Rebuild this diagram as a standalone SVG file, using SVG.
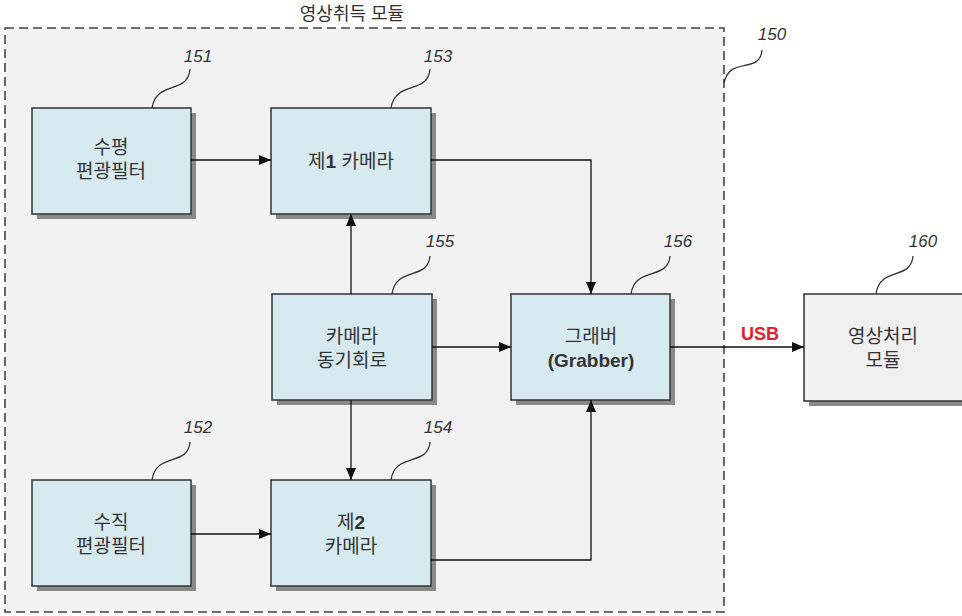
<svg xmlns="http://www.w3.org/2000/svg" width="962" height="616" viewBox="0 0 962 616">
<style>
.box{fill:#d6eaf0;stroke:#333;stroke-width:1.5}
.gbox{fill:#f0f0f0;stroke:#333;stroke-width:1.5}
.sh{fill:#8a8a8a}
.t{font-family:"Liberation Sans","Noto Sans CJK KR",sans-serif;font-size:19px;fill:#333;text-anchor:middle}
.b{font-weight:bold}
.num{font-family:"Liberation Sans",sans-serif;font-size:17px;font-style:italic;fill:#333;text-anchor:middle}
.lead{fill:none;stroke:#333;stroke-width:1.3}
.con{fill:none;stroke:#111;stroke-width:1.3}
</style>
<defs>
<marker id="arr" viewBox="0 0 12 10" refX="12" refY="5" markerWidth="12" markerHeight="10" markerUnits="userSpaceOnUse" orient="auto">
<path d="M0,0 L12,5 L0,10 Z" fill="#111"/>
</marker>
</defs>
<rect width="962" height="616" fill="#fff"/>
<g id="module150">
<rect x="5" y="28" width="719" height="584" fill="#f2f2f2" stroke="#444" stroke-width="1.6" stroke-dasharray="9,5"/>
<text class="t" x="352" y="20" style="font-size:18px">영상취득 모듈</text>
<path class="lead" d="M724,83 C730,55 760,75 762,50"/>
<text class="num" x="772" y="40">150</text>
</g>
<g id="n151">
<rect class="sh" x="37" y="113" width="159" height="106"/>
<rect class="box" x="32" y="108" width="159" height="106"/>
<text class="t" x="111" y="154">수평</text>
<text class="t" x="111" y="178">편광필터</text>
<path class="lead" d="M152,108 C156,80 188,95 190,69"/>
<text class="num" x="198" y="62">151</text>
</g>
<g id="n153">
<rect class="sh" x="276" y="113" width="160" height="106"/>
<rect class="box" x="271" y="108" width="160" height="106"/>
<text class="t" x="351" y="168">제<tspan class="b">1</tspan> 카메라</text>
<path class="lead" d="M391,108 C395,80 428,95 430,69"/>
<text class="num" x="438" y="62">153</text>
</g>
<g id="n155">
<rect class="sh" x="277" y="299" width="160" height="106"/>
<rect class="box" x="272" y="294" width="160" height="106"/>
<text class="t" x="352" y="343">카메라</text>
<text class="t" x="352" y="367">동기회로</text>
<path class="lead" d="M392,294 C396,266 428,281 430,256"/>
<text class="num" x="440" y="247">155</text>
</g>
<g id="n156">
<rect class="sh" x="516" y="299" width="159" height="106"/>
<rect class="box" x="511" y="294" width="159" height="106"/>
<text class="t" x="591" y="343">그래버</text>
<text class="t b" x="591" y="367">(Grabber)</text>
<path class="lead" d="M631,294 C635,266 668,281 670,256"/>
<text class="num" x="678" y="247">156</text>
</g>
<g id="n152">
<rect class="sh" x="37" y="485" width="159" height="106"/>
<rect class="box" x="32" y="480" width="159" height="106"/>
<text class="t" x="111" y="529">수직</text>
<text class="t" x="111" y="553">편광필터</text>
<path class="lead" d="M152,480 C156,452 188,467 190,442"/>
<text class="num" x="198" y="433">152</text>
</g>
<g id="n154">
<rect class="sh" x="276" y="485" width="160" height="106"/>
<rect class="box" x="271" y="480" width="160" height="106"/>
<text class="t" x="351" y="529">제<tspan class="b">2</tspan></text>
<text class="t" x="351" y="553">카메라</text>
<path class="lead" d="M391,480 C395,452 428,467 430,442"/>
<text class="num" x="438" y="433">154</text>
</g>
<g id="n160">
<rect class="sh" x="809" y="299" width="160" height="107"/>
<rect class="gbox" x="804" y="294" width="160" height="107"/>
<text class="t" x="883" y="343">영상처리</text>
<text class="t" x="883" y="367">모듈</text>
<path class="lead" d="M876,294 C880,266 911,281 913,256"/>
<text class="num" x="923" y="247">160</text>
</g>
<g id="connectors">
<path class="con" d="M191,160 L271,160" marker-end="url(#arr)"/>
<path class="con" d="M431,160 L591,160 L591,294" marker-end="url(#arr)"/>
<path class="con" d="M351,294 L351,214" marker-end="url(#arr)"/>
<path class="con" d="M351,400 L351,480" marker-end="url(#arr)"/>
<path class="con" d="M432,347 L511,347" marker-end="url(#arr)"/>
<path class="con" d="M191,534 L271,534" marker-end="url(#arr)"/>
<path class="con" d="M431,560 L591,560 L591,400" marker-end="url(#arr)"/>
<path class="con" d="M670,347 L804,347" marker-end="url(#arr)"/>
<text x="760" y="340" font-family="Liberation Sans,sans-serif" font-size="18" font-weight="bold" fill="#e0202a" text-anchor="middle">USB</text>
</g>
</svg>
